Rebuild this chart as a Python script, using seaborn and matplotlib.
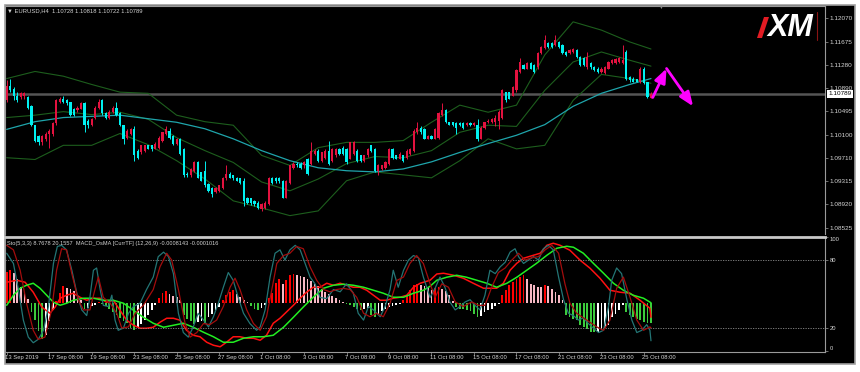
import matplotlib
matplotlib.use("Agg")
import numpy as np
import seaborn as sns
import matplotlib.pyplot as plt
import matplotlib.transforms as mtransforms
from matplotlib.patches import Rectangle, Polygon
from matplotlib.lines import Line2D

# ---- EURUSD H4, 13 Sep - 25 Oct 2019 ----
opens = [1.1068, 1.1092, 1.1087, 1.1076, 1.1073, 1.1075, 1.1073, 1.1058, 1.1026, 1.1008,
         1.0997, 1.1003, 1.1012, 1.1012, 1.1029, 1.1065, 1.1071, 1.1068, 1.1065, 1.1054,
         1.1051, 1.1054, 1.1063, 1.1034, 1.1026, 1.1039, 1.1056, 1.1068, 1.1046, 1.1039,
         1.1048, 1.1056, 1.1046, 1.1026, 1.1005, 1.1012, 1.1020, 1.0983, 1.0980, 1.0983,
         1.0992, 1.0992, 1.0986, 1.0988, 1.1000, 1.1012, 1.1017, 1.1008, 1.0995, 1.1003,
         1.0986, 1.0944, 1.0941, 1.0949, 1.0963, 1.0946, 1.0949, 1.0927, 1.0920, 1.0913,
         1.0915, 1.0920, 1.0936, 1.0944, 1.0941, 1.0937, 1.0936, 1.0932, 1.0903, 1.0902,
         1.0898, 1.0895, 1.0884, 1.0886, 1.0893, 1.0937, 1.0937, 1.0937, 1.0932, 1.0903,
         1.0929, 1.0954, 1.0961, 1.0961, 1.0958, 1.0969, 1.0961, 1.0978, 1.0983, 1.0966,
         1.0971, 1.0983, 1.0966, 1.0975, 1.0986, 1.0988, 1.0986, 1.0969, 1.0978, 1.0983,
         1.0975, 1.0966, 1.0975, 1.0992, 1.0986, 1.0949, 1.0952, 1.0954, 1.0961, 1.0986,
         1.0975, 1.0969, 1.0975, 1.0971, 1.0978, 1.0983, 1.1014, 1.1022, 1.1020, 1.1003,
         1.1008, 1.1003, 1.1005, 1.1043, 1.1051, 1.1031, 1.1031, 1.1029, 1.1029, 1.1029,
         1.1026, 1.1029, 1.1026, 1.1026, 1.1003, 1.1022, 1.1031, 1.1031, 1.1031, 1.1034,
         1.1039, 1.1082, 1.1082, 1.1076, 1.1085, 1.1116, 1.1128, 1.1122, 1.1131, 1.1128,
         1.1124, 1.1148, 1.1156, 1.1165, 1.1165, 1.1162, 1.1167, 1.1162, 1.1150, 1.1148,
         1.1150, 1.1153, 1.1141, 1.1139, 1.1124, 1.1131, 1.1124, 1.1122, 1.1116, 1.1114,
         1.1122, 1.1131, 1.1131, 1.1133, 1.1131, 1.1150, 1.1107, 1.1105, 1.1104, 1.1099,
         1.1122, 1.1099, 1.10728]
highs = [1.1102, 1.1105, 1.1090, 1.1082, 1.1082, 1.1082, 1.1076, 1.1061, 1.1027, 1.1010,
         1.1010, 1.1014, 1.1020, 1.1032, 1.1071, 1.1073, 1.1075, 1.1070, 1.1066, 1.1056,
         1.1058, 1.1066, 1.1065, 1.1037, 1.1039, 1.1058, 1.1071, 1.1070, 1.1048, 1.1051,
         1.1058, 1.1065, 1.1048, 1.1027, 1.1019, 1.1022, 1.1024, 1.0986, 1.0993, 1.0993,
         1.0993, 1.0993, 1.0997, 1.1007, 1.1015, 1.1024, 1.1022, 1.1010, 1.1005, 1.1005,
         1.0988, 1.0946, 1.0954, 1.0966, 1.0966, 1.0947, 1.0966, 1.0929, 1.0922, 1.0922,
         1.0925, 1.0939, 1.0958, 1.0946, 1.0942, 1.0939, 1.0937, 1.0936, 1.0905, 1.0903,
         1.0900, 1.0897, 1.0895, 1.0897, 1.0939, 1.0939, 1.0939, 1.0939, 1.0934, 1.0934,
         1.0959, 1.0963, 1.0963, 1.0963, 1.0965, 1.0971, 1.0997, 1.0985, 1.0985, 1.0981,
         1.0985, 1.1000, 1.0988, 1.0988, 1.0988, 1.0990, 1.0988, 1.0998, 1.0999, 1.0985,
         1.0976, 1.0976, 1.0988, 1.0993, 1.0988, 1.0961, 1.0959, 1.0965, 1.0988, 1.0988,
         1.0976, 1.0980, 1.0976, 1.0985, 1.0988, 1.1019, 1.1031, 1.1024, 1.1022, 1.1010,
         1.1010, 1.1022, 1.1048, 1.1063, 1.1053, 1.1032, 1.1032, 1.1031, 1.1031, 1.1031,
         1.1031, 1.1031, 1.1032, 1.1037, 1.1024, 1.1032, 1.1036, 1.1039, 1.1043, 1.1051,
         1.1087, 1.1083, 1.1083, 1.1092, 1.1121, 1.1139, 1.1129, 1.1133, 1.1133, 1.1129,
         1.1150, 1.1160, 1.1178, 1.1167, 1.1167, 1.1178, 1.1168, 1.1163, 1.1151, 1.1155,
         1.1156, 1.1155, 1.1143, 1.1141, 1.1150, 1.1133, 1.1126, 1.1124, 1.1124, 1.1126,
         1.1134, 1.1138, 1.1139, 1.1141, 1.1162, 1.1153, 1.1109, 1.1107, 1.1105, 1.1124,
         1.1124, 1.1100, 1.10818]
lows = [1.1065, 1.1082, 1.1068, 1.1066, 1.1070, 1.1071, 1.1054, 1.1024, 1.0997, 1.0993,
        1.0993, 1.1000, 1.0988, 1.1008, 1.1027, 1.1063, 1.1063, 1.1061, 1.1041, 1.1041,
        1.1048, 1.1053, 1.1014, 1.1022, 1.1024, 1.1037, 1.1054, 1.1044, 1.1037, 1.1037,
        1.1046, 1.1041, 1.1024, 1.0995, 1.1003, 1.1010, 1.0966, 1.0969, 1.0978, 1.0981,
        1.0985, 1.0983, 1.0985, 1.0986, 1.0998, 1.1010, 1.1003, 1.0993, 1.0993, 1.0976,
        1.0939, 1.0939, 1.0939, 1.0946, 1.0936, 1.0931, 1.0922, 1.0913, 1.0905, 1.0912,
        1.0913, 1.0918, 1.0934, 1.0936, 1.0934, 1.0931, 1.0927, 1.0890, 1.0893, 1.0891,
        1.0890, 1.0884, 1.0881, 1.0884, 1.0891, 1.0927, 1.0929, 1.0929, 1.0902, 1.0902,
        1.0927, 1.0952, 1.0956, 1.0952, 1.0954, 1.0942, 1.0958, 1.0975, 1.0964, 1.0963,
        1.0969, 1.0959, 1.0964, 1.0973, 1.0976, 1.0976, 1.0961, 1.0968, 1.0976, 1.0964,
        1.0963, 1.0963, 1.0973, 1.0981, 1.0947, 1.0941, 1.0950, 1.0952, 1.0959, 1.0969,
        1.0968, 1.0968, 1.0964, 1.0969, 1.0976, 1.0981, 1.1012, 1.1012, 1.1002, 1.1002,
        1.1002, 1.1002, 1.1003, 1.1041, 1.1029, 1.1026, 1.1024, 1.1012, 1.1024, 1.1020,
        1.1024, 1.1024, 1.1024, 1.1000, 1.1002, 1.1020, 1.1029, 1.1029, 1.1024, 1.1020,
        1.1037, 1.1066, 1.1070, 1.1075, 1.1083, 1.1114, 1.1121, 1.1121, 1.1121, 1.1114,
        1.1122, 1.1146, 1.1155, 1.1156, 1.1156, 1.1160, 1.1156, 1.1146, 1.1143, 1.1146,
        1.1148, 1.1139, 1.1126, 1.1126, 1.1122, 1.1122, 1.1117, 1.1114, 1.1114, 1.1112,
        1.1121, 1.1129, 1.1129, 1.1131, 1.1129, 1.1102, 1.1100, 1.1099, 1.1099, 1.1097,
        1.1095, 1.1072, 1.10722]
closes = [1.1093, 1.1085, 1.1075, 1.1068, 1.1080, 1.1080, 1.1056, 1.1026, 1.1000, 1.0997,
          1.1008, 1.1012, 1.1017, 1.1029, 1.1068, 1.1071, 1.1065, 1.1063, 1.1043, 1.1043,
          1.1056, 1.1063, 1.1026, 1.1026, 1.1037, 1.1056, 1.1065, 1.1046, 1.1039, 1.1048,
          1.1056, 1.1043, 1.1026, 1.1003, 1.1017, 1.1020, 1.0975, 1.0971, 1.0992, 1.0992,
          1.0986, 1.0985, 1.0995, 1.1005, 1.1014, 1.1020, 1.1005, 1.0995, 1.1003, 1.0978,
          1.0941, 1.0941, 1.0952, 1.0963, 1.0937, 1.0932, 1.0924, 1.0915, 1.0910, 1.0920,
          1.0924, 1.0937, 1.0944, 1.0937, 1.0936, 1.0932, 1.0929, 1.0898, 1.0895, 1.0895,
          1.0893, 1.0886, 1.0893, 1.0895, 1.0937, 1.0929, 1.0931, 1.0931, 1.0903, 1.0932,
          1.0958, 1.0961, 1.0958, 1.0954, 1.0963, 1.0944, 1.0983, 1.0983, 1.0966, 1.0980,
          1.0983, 1.0961, 1.0986, 1.0986, 1.0978, 1.0978, 1.0963, 1.0997, 1.0997, 1.0966,
          1.0966, 1.0975, 1.0986, 1.0983, 1.0949, 1.0958, 1.0958, 1.0963, 1.0986, 1.0971,
          1.0969, 1.0978, 1.0966, 1.0983, 1.0986, 1.1017, 1.1022, 1.1014, 1.1003, 1.1008,
          1.1003, 1.1020, 1.1046, 1.1051, 1.1031, 1.1027, 1.1026, 1.1022, 1.1026, 1.1022,
          1.1029, 1.1026, 1.1029, 1.1003, 1.1022, 1.1031, 1.1034, 1.1037, 1.1039, 1.1048,
          1.1085, 1.1068, 1.1071, 1.1090, 1.1119, 1.1133, 1.1122, 1.1131, 1.1122, 1.1116,
          1.1148, 1.1158, 1.1170, 1.1158, 1.1158, 1.1170, 1.1158, 1.1148, 1.1145, 1.1153,
          1.1155, 1.1141, 1.1128, 1.1128, 1.1141, 1.1124, 1.1119, 1.1116, 1.1122, 1.1124,
          1.1133, 1.1136, 1.1138, 1.1139, 1.1136, 1.1105, 1.1102, 1.1100, 1.1100, 1.1122,
          1.1097, 1.1073, 1.10789]

# Bollinger bands (green) and slow MA (cyan), sampled every 8 bars
band_pos = [0, 8, 16, 24, 32, 40, 48, 56, 64, 72, 80, 88, 96, 104, 112, 120,
            128, 136, 144, 152, 160, 168, 176, 182]
bb_upper = [1.1105, 1.1117, 1.1109, 1.1095, 1.1082, 1.1080, 1.1043, 1.1032, 1.1026, 1.0975,
            1.0958, 1.0988, 1.0997, 1.0997, 1.1000, 1.1031, 1.1060, 1.1048, 1.1060, 1.1145,
            1.1201, 1.1187, 1.1167, 1.1155]
bb_mid = [1.1039, 1.1043, 1.1049, 1.1044, 1.1048, 1.1036, 1.1005, 1.0983, 1.0963, 1.0930,
          1.0915, 1.0935, 1.0961, 1.0973, 1.0971, 1.0983, 1.1014, 1.1026, 1.1024, 1.1085,
          1.1133, 1.1150, 1.1136, 1.1126]
bb_lower = [1.0971, 1.0968, 1.0992, 1.0992, 1.1012, 1.0993, 1.0966, 1.0935, 1.0898, 1.0886,
            1.0873, 1.0881, 1.0932, 1.0947, 1.0942, 1.0937, 1.0966, 1.1003, 1.0986, 1.0992,
            1.1068, 1.1112, 1.1105, 1.1097]
ma_slow = [1.1019, 1.1032, 1.1039, 1.1041, 1.1043, 1.1037, 1.1031, 1.1020, 1.1003, 1.0983,
           1.0966, 1.0954, 1.0949, 1.0947, 1.0952, 1.0964, 1.0980, 1.0995, 1.1009, 1.1027,
           1.1058, 1.1080, 1.1095, 1.1105]

price_ticks = [1.12070, 1.11675, 1.11280, 1.10890, 1.10495, 1.10100, 1.09710, 1.09315, 1.08920, 1.08525]
last_price = 1.10789

# hand drawn zigzag forecast (magenta arrows)
arrow_x = [182.5, 186.4, 193.9]
arrow_y = [1.1073, 1.1122, 1.1058]

time_pos = [0, 12, 24, 36, 48, 60, 72, 84, 96, 108, 120, 132, 144, 156, 168, 180]
time_labels = ['13 Sep 2019', '17 Sep 08:00', '19 Sep 08:00', '23 Sep 08:00', '25 Sep 08:00',
               '27 Sep 08:00', '1 Oct 08:00', '3 Oct 08:00', '7 Oct 08:00', '9 Oct 08:00',
               '11 Oct 08:00', '15 Oct 08:00', '17 Oct 08:00', '21 Oct 08:00', '23 Oct 08:00',
               '25 Oct 08:00']

# MACD_OsMA histogram, in points (1e-5)
osma = [124, 132, 120, 96, 64, 44, 16, -36, -68, -112, -144, -128, -72, -28, 8, 40, 68, 60, 56, 48,
        32, 12, -24, -20, -12, -8, 4, -4, -12, -24, -36, -48, -60, -72, -80, -100, -108, -96, -84, -68,
        -48, -28, -8, 20, 40, 48, 36, 28, 24, 12, -48, -64, -72, -84, -76, -72, -80, -56, -44, -28,
        -16, 12, 32, 44, 52, 36, 24, 12, 4, -12, -24, -28, -20, -8, 20, 40, 80, 96, 76, 92,
        112, 116, 112, 108, 104, 96, 88, 76, 68, 56, 44, 36, 28, 20, 12, 4, -4, -8, -16, -24,
        -28, -24, -20, -48, -56, -48, -32, -24, -16, -12, -8, -4, 12, 32, 52, 72, 76, 72, 68, 64,
        52, 60, 64, 56, 48, 32, 8, -16, -24, -26, -28, -32, -44, -56, -52, -36, -28, -24, -12, -4,
        32, 52, 72, 84, 96, 104, 112, 96, 76, 72, 64, 62, 72, 68, 56, 44, 32, 12, -48, -56,
        -64, -68, -88, -96, -104, -116, -118, -116, -108, -100, -88, -56, -44, -28, -8, -36, -48, -56, -64, -68,
        -76, -80, -81]

macd_pos = [0.0, 2.8, 5.2, 7.5, 9.9, 12.2, 13.7, 15.1, 16.9, 18.8,
            20.7, 22.6, 24.5, 26.4, 28.2, 30.1, 32.0, 33.9, 35.8, 37.7,
            39.5, 41.4, 43.3, 45.2, 47.1, 49.0, 50.8, 52.7, 54.6, 56.5,
            58.4, 60.3, 62.1, 64.0, 65.9, 67.8, 69.7, 71.6, 73.4, 75.3,
            77.2, 79.1, 81.0, 82.9, 84.7, 86.6, 88.5, 90.4, 92.3, 94.2,
            96.0, 97.9, 99.8, 101.7, 103.6, 105.5, 107.3, 109.2, 111.1, 113.0,
            114.9, 116.8, 119.6, 121.5, 123.4, 126.2, 129.0, 131.8, 134.7, 138.4,
            140.3, 142.2, 144.1, 146.0, 148.8, 150.7, 152.6, 154.4, 156.3, 159.1,
            162.0, 164.8, 167.6, 170.4, 173.3, 176.1, 178.9, 181.7, 182.0]
macd_line = [82, 90, 82, 42, -17, -42, -17, 18, 30, 38,
             22, 10, 18, 18, 2, 10, -30, -70, -90, -102,
             -102, -98, -78, -62, -62, -70, -110, -130, -136, -158,
             -170, -176, -158, -136, -136, -142, -142, -150, -130, -82,
             -62, -36, -10, 18, 42, 62, 62, 78, 70, 78,
             70, 62, 62, 50, 30, 10, 10, 18, 22, 30,
             62, 78, 90, 115, 118, 110, 98, 78, 58, 58,
             78, 130, 158, 178, 190, 198, 230, 238, 230, 210,
             170, 138, 98, 50, 42, 38, 10, -22, -58]
signal_pos = [0.0, 1.9, 3.8, 5.6, 7.5, 9.4, 11.3, 13.2, 15.1, 16.9,
              18.8, 21.7, 24.5, 27.3, 30.1, 33.0, 35.8, 38.6, 41.4, 44.3,
              47.1, 49.9, 52.7, 55.6, 58.4, 61.2, 64.0, 66.9, 69.7, 72.5,
              75.3, 78.2, 81.0, 83.8, 86.6, 89.5, 92.3, 95.1, 97.9, 100.8,
              103.6, 106.4, 109.2, 112.1, 114.9, 117.7, 119.6, 121.5, 124.3, 127.1,
              129.9, 132.8, 135.6, 138.4, 141.3, 144.1, 146.9, 149.7, 152.6, 155.4,
              158.2, 160.1, 162.9, 165.7, 168.6, 171.4, 174.2, 177.0, 179.9, 182.0]
signal_line = [-10, 30, 58, 70, 78, 58, 30, 2, -10, -2,
               10, 18, 18, 10, 10, -2, -30, -58, -82, -98,
               -90, -82, -98, -118, -136, -158, -158, -142, -136, -136,
               -130, -98, -58, -17, 22, 58, 70, 74, 70, 62,
               50, 38, 22, 22, 38, 50, 66, 90, 102, 110,
               102, 90, 78, 62, 78, 102, 130, 158, 190, 218,
               226, 222, 198, 158, 118, 78, 50, 30, 18, 0]

# Stochastic (5,3,3)
sto_main_pos = [0.0, 1.9, 3.3, 4.7, 6.1, 7.5, 8.9, 10.4, 11.8, 13.2,
                14.3, 15.5, 16.9, 18.4, 19.8, 21.2, 22.6, 23.5, 24.5, 25.4,
                26.4, 27.3, 28.7, 29.7, 30.6, 31.5, 33.0, 34.4, 35.8, 37.7,
                39.5, 41.4, 42.8, 44.3, 45.7, 47.1, 48.5, 49.9, 51.3, 52.7,
                54.1, 55.6, 57.0, 58.4, 59.8, 61.2, 62.6, 64.0, 65.4, 66.9,
                68.7, 70.6, 71.6, 73.0, 74.4, 75.8, 77.2, 78.6, 80.0, 81.5,
                82.9, 84.3, 85.7, 87.1, 88.5, 90.4, 92.3, 94.2, 96.0, 97.9,
                99.3, 100.8, 102.2, 103.6, 105.5, 106.9, 108.3, 109.2, 110.6, 112.1,
                113.5, 114.9, 116.3, 117.7, 119.6, 121.0, 122.4, 123.8, 125.2, 126.7,
                128.1, 129.5, 130.9, 132.3, 133.7, 135.1, 136.5, 138.0, 139.4, 140.8,
                142.2, 143.6, 144.6, 146.0, 147.4, 148.8, 150.2, 151.6, 153.0, 154.4,
                155.9, 157.3, 158.7, 160.1, 161.5, 162.9, 164.3, 165.7, 167.2, 168.6,
                170.0, 170.9, 172.3, 173.7, 175.2, 176.6, 178.0, 179.4, 180.8, 181.7,
                182.0]
sto_main = [86, 77, 54, 27, 12, 7, 10, 18, 39, 77,
            92, 93, 89, 71, 51, 36, 31, 47, 71, 73,
            54, 40, 39, 49, 27, 18, 20, 33, 39, 42,
            54, 65, 83, 87, 83, 68, 33, 16, 12, 21,
            33, 27, 21, 30, 42, 56, 69, 62, 47, 33,
            24, 18, 21, 36, 65, 86, 89, 80, 89, 93,
            89, 77, 65, 59, 47, 46, 54, 52, 59, 51,
            33, 27, 39, 36, 30, 39, 54, 71, 56, 71,
            80, 84, 82, 65, 47, 55, 65, 56, 43, 36,
            39, 43, 45, 40, 36, 49, 71, 68, 74, 78,
            87, 90, 83, 77, 80, 83, 80, 90, 93, 89,
            65, 45, 33, 31, 27, 29, 24, 20, 16, 18,
            39, 62, 73, 68, 45, 27, 16, 18, 23, 18,
            8.77]
sto_sig_pos = [0.0, 1.9, 3.8, 5.6, 7.5, 8.9, 10.8, 12.7, 14.1, 15.5,
               16.9, 18.4, 20.2, 21.7, 23.5, 25.0, 25.9, 27.3, 29.2, 31.1,
               32.5, 34.4, 36.3, 38.6, 41.4, 43.3, 45.2, 46.6, 48.5, 50.4,
               51.8, 53.7, 55.6, 57.4, 59.3, 61.2, 63.1, 64.5, 65.9, 67.8,
               69.7, 71.6, 73.4, 74.9, 76.3, 78.2, 80.0, 81.9, 83.8, 85.7,
               87.6, 89.5, 91.3, 93.2, 95.1, 97.0, 98.9, 100.8, 102.6, 104.5,
               106.4, 108.3, 110.2, 112.1, 113.9, 115.8, 117.7, 119.6, 121.0, 122.9,
               124.8, 126.7, 129.0, 131.4, 133.3, 135.1, 137.0, 138.9, 140.8, 142.7,
               144.6, 146.4, 148.3, 150.2, 152.1, 154.0, 155.9, 157.7, 159.1, 161.0,
               162.9, 164.8, 166.7, 168.6, 170.4, 172.3, 174.2, 176.1, 178.0, 179.9,
               181.7, 182.0]
sto_sig = [93, 89, 71, 42, 18, 10, 12, 36, 71, 90,
           89, 68, 45, 36, 36, 55, 65, 47, 42, 33,
           20, 21, 33, 40, 54, 74, 86, 80, 54, 24,
           12, 16, 24, 23, 27, 39, 56, 64, 54, 36,
           24, 18, 30, 54, 77, 84, 86, 92, 90, 74,
           62, 54, 52, 54, 55, 54, 47, 33, 30, 33,
           30, 42, 62, 65, 77, 84, 77, 59, 47, 59,
           56, 43, 39, 43, 40, 40, 56, 69, 73, 80,
           86, 80, 82, 83, 89, 93, 86, 59, 42, 33,
           29, 25, 21, 18, 27, 55, 65, 47, 27, 18,
           21, 20.16]

# ---- styling ----
BULL = '#e3123f'
BEAR = '#00f0f0'
TXT = '#d4d4d4'
GRID = '#9a9a9a'

sns.set_theme(style='dark', rc={'axes.facecolor': 'none', 'figure.facecolor': 'white'})
plt.rcParams['font.family'] = ['Liberation Sans', 'DejaVu Sans']

W, H = 860, 372
fig = plt.figure(figsize=(W / 100, H / 100), dpi=100)


def fx(px):
    return px / W


def fy(py):
    return 1 - py / H


# black terminal window
fig.patches.append(Rectangle((fx(5), fy(364)), fx(855) - fx(5), fy(5) - fy(364),
                             transform=fig.transFigure, facecolor='black',
                             edgecolor='#a0a0a0', lw=1.2, zorder=-5))

ax = fig.add_axes([fx(5), fy(234), fx(825) - fx(5), fy(6) - fy(234)])
ax2 = fig.add_axes([fx(5), fy(352), fx(825) - fx(5), fy(237) - fy(352)])
ax_o = ax2.twinx()
ax2.set_zorder(2)
ax_o.set_zorder(1)
for a in (ax, ax2, ax_o):
    a.set_facecolor('none')
    a.grid(False)

XL = (-0.48, 231.16)

# ---- main price panel ----
x = np.arange(len(closes))
o = np.array(opens)
c = np.array(closes)
cols = np.where(c >= o, BULL, BEAR)
ax.axhline(last_price, color='#555555', lw=1.8, zorder=1)
ax.vlines(x, lows, highs, colors=cols, lw=0.7, zorder=3)
ax.bar(x, np.maximum(np.abs(c - o), 0.00004), bottom=np.minimum(o, c),
       width=0.62, color=cols, linewidth=0, zorder=4)

for band in (bb_upper, bb_mid, bb_lower):
    sns.lineplot(x=band_pos, y=band, ax=ax, color='#1d5e1d', linewidth=0.8, zorder=2)
sns.lineplot(x=band_pos, y=ma_slow, ax=ax, color='#1fa5ab', linewidth=0.9, zorder=2)

for k in range(2):
    ax.annotate('', xy=(arrow_x[k + 1], arrow_y[k + 1]), xytext=(arrow_x[k], arrow_y[k]),
                arrowprops=dict(arrowstyle='-|>,head_length=0.7,head_width=0.28',
                                color='#ff00ff', lw=2.0, shrinkA=0, shrinkB=0), zorder=6)

ax.set_xlim(*XL)
ax.set_ylim(1.08419, 1.12278)
ax.set_xticks([])
ax.yaxis.tick_right()
ax.set_yticks(price_ticks)
ax.set_yticklabels([f'{v:.5f}' for v in price_ticks])
ax.tick_params(axis='y', colors=GRID, labelcolor=TXT, labelsize=4.6, length=2, width=0.5, pad=1.5, right=True)
ax.set_xlabel('')
ax.set_ylabel('')
for side in ('left', 'top', 'right'):
    ax.spines[side].set_color(GRID)
    ax.spines[side].set_linewidth(0.8)
ax.spines['bottom'].set_visible(False)

blend = mtransforms.blended_transform_factory(ax.transAxes, ax.transData)
ax.text(1.004, last_price, f'{last_price:.5f}', transform=blend, fontsize=4.6, color='black',
        ha='left', va='center', clip_on=False,
        bbox=dict(boxstyle='square,pad=0.18', fc='white', ec='none'))

fig.text(fx(7), fy(11), '\u25bc EURUSD,H4  1.10728 1.10818 1.10722 1.10789',
         fontsize=4.2, color=TXT, ha='left', va='center')
fig.text(fx(660), fy(7.5), '\u25bc', fontsize=3.5, color='#8a8a8a', ha='center', va='center')

# XM logo
fig.patches.append(Polygon([(fx(757), fy(38)), (fx(762), fy(38)), (fx(769), fy(17)), (fx(764), fy(17))],
                           closed=True, transform=fig.transFigure, fc='#e21b23', ec='none', zorder=3))
fig.text(fx(790), fy(28), 'XM', fontsize=22, color='white', fontweight='bold', style='italic',
         ha='center', va='center', zorder=4)
fig.lines.append(Line2D([fx(817), fx(817)], [fy(12), fy(40)], transform=fig.transFigure,
                        color='#8a1414', lw=0.8))

# ---- indicator panel ----
ov = np.array(osma)
prev = np.r_[ov[0], ov[:-1]]
hist_cols = np.where(ov >= 0, np.where(ov >= prev, '#ff0000', '#f7b8c4'),
                     np.where(ov <= prev, '#3ccc3c', '#ffffff'))
ax_o.bar(np.arange(len(osma)), ov, width=0.5, color=hist_cols, linewidth=0)
sns.lineplot(x=macd_pos, y=macd_line, ax=ax_o, color='#ff1010', linewidth=1.1)
sns.lineplot(x=signal_pos, y=signal_line, ax=ax_o, color='#22ee22', linewidth=1.1)
ax_o.set_ylim(-197, 263)
ax_o.set_yticks([])
ax_o.set_ylabel('')
for s in ax_o.spines.values():
    s.set_visible(False)

for lvl in (80, 20):
    ax2.axhline(lvl, color='#8c8c8c', lw=0.6, ls=(0, (1.5, 1.5)), zorder=0)
sns.lineplot(x=sto_main_pos, y=sto_main, ax=ax2, color='#237575', linewidth=0.9)
sns.lineplot(x=sto_sig_pos, y=sto_sig, ax=ax2, color='#a30d0d', linewidth=0.9)
ax2.set_xlim(*XL)
ax2.set_ylim(-1.15, 100.35)
ax2.yaxis.tick_right()
ax2.set_yticks([0, 20, 80, 100])
ax2.set_yticklabels(['0', '20', '80', '100'])
ax2.tick_params(axis='y', colors=GRID, labelcolor=TXT, labelsize=4.2, length=2, width=0.5, pad=1.5, right=True, left=False)
tl = ax2.get_yticklabels()
tl[0].set_va('bottom')
tl[3].set_va('top')
ax2.set_xticks(time_pos)
ax2.set_xticklabels([])
ax2.tick_params(axis='x', colors=GRID, length=2, width=0.5, bottom=True)
ax2.set_xlabel('')
ax2.set_ylabel('')
for side in ('left', 'right', 'bottom'):
    ax2.spines[side].set_color(GRID)
    ax2.spines[side].set_linewidth(0.8)
ax2.spines['top'].set_color('#c8c8c8')
ax2.spines['top'].set_linewidth(2.0)

tb = mtransforms.blended_transform_factory(ax2.transData, ax2.transAxes)
for p, lab in zip(time_pos, time_labels):
    ax2.text(p - 0.4, -0.045, lab, transform=tb, fontsize=4.2, color=TXT,
             ha='left', va='center', clip_on=False)

fig.text(fx(7), fy(243), 'Sto(5,3,3) 8.7678 20.1557  MACD_OsMA [CurrTF] (12,26,9) -0.0008143 -0.0001016',
         fontsize=4.1, color=TXT, ha='left', va='center', zorder=5)

fig.savefig('out.png', dpi=100, facecolor='white')
